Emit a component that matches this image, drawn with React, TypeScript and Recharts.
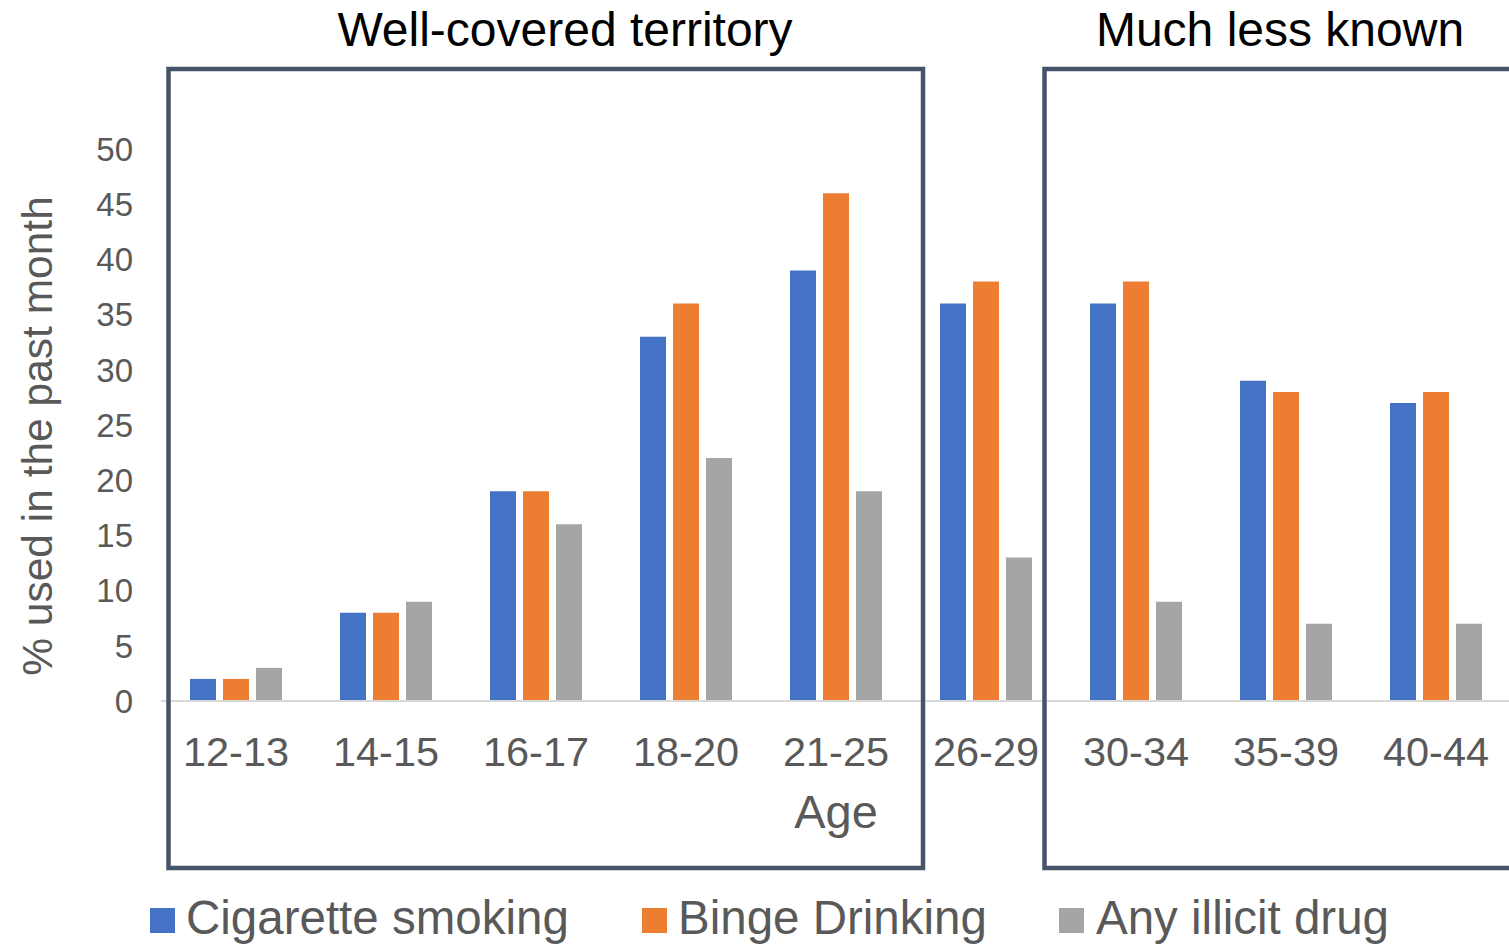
import React from "react";
import { BarChart, Bar, XAxis, YAxis } from "recharts";

const categories = ["12-13", "14-15", "16-17", "18-20", "21-25", "26-29", "30-34", "35-39", "40-44"];
const cigarette = [2, 8, 19, 33, 39, 36, 36, 29, 27];
const binge = [2, 8, 19, 36, 46, 38, 38, 28, 28];
const illicit = [3, 9, 16, 22, 19, 13, 9, 7, 7];
const yTicks = [0, 5, 10, 15, 20, 25, 30, 35, 40, 45, 50];

const seriesNames = ["Cigarette smoking", "Binge Drinking", "Any illicit drug"];
const seriesColors = ["#4472c4", "#ed7d31", "#a5a5a5"];
const seriesKeys = ["cig", "binge", "drug"];

const data = categories.map((c, i) => ({
  age: c,
  cig: cigarette[i],
  binge: binge[i],
  drug: illicit[i],
}));

const FONT = "'Liberation Sans', Arial, sans-serif";
const GREY_TEXT = "#595959";
const BOX = "#44546a";

const legendPos = [
  { sq: 150, tx: 186 },
  { sq: 642, tx: 678 },
  { sq: 1059, tx: 1096 },
];

export default function App() {
  return (
    <div
      style={{
        position: "fixed",
        left: 0,
        top: 0,
        width: 1509,
        height: 947,
        overflow: "hidden",
        background: "#ffffff",
        fontFamily: FONT,
      }}
    >
      <div style={{ position: "absolute", left: 0, top: 0 }}>
        <BarChart
          width={1520}
          height={947}
          data={data}
          margin={{ top: 149, bottom: 216, left: 101, right: 9 }}
          barSize={26}
          barGap={7}
        >
          <XAxis
            dataKey="age"
            height={30}
            axisLine={{ stroke: "#d9d9d9", strokeWidth: 2 }}
            tickLine={false}
            tickSize={0}
            tickMargin={36}
            interval={0}
            tick={{ fill: GREY_TEXT, fontSize: 41.5, fontFamily: FONT }}
          />
          <YAxis
            width={60}
            domain={[0, 50]}
            ticks={yTicks}
            axisLine={false}
            tickLine={false}
            tickSize={0}
            tickMargin={28}
            interval={0}
            tick={{ fill: GREY_TEXT, fontSize: 33, fontFamily: FONT }}
          />
          {seriesKeys.map((k, i) => (
            <Bar
              key={k}
              dataKey={k}
              name={seriesNames[i]}
              fill={seriesColors[i]}
              isAnimationActive={false}
            />
          ))}
        </BarChart>
      </div>
      <svg
        width={1509}
        height={947}
        style={{ position: "absolute", left: 0, top: 0, pointerEvents: "none" }}
      >
        <rect x={168.5} y={69} width={754.5} height={799} fill="none" stroke={BOX} strokeWidth={4.5} />
        <rect x={1044.5} y={69} width={500} height={799} fill="none" stroke={BOX} strokeWidth={4.5} />
        <text x={565} y={46} textAnchor="middle" fontSize={48} fill="#000000" fontFamily={FONT}>
          Well-covered territory
        </text>
        <text x={1280} y={46} textAnchor="middle" fontSize={48} fill="#000000" fontFamily={FONT}>
          Much less known
        </text>
        <text x={836} y={828} textAnchor="middle" fontSize={47} fill={GREY_TEXT} fontFamily={FONT}>
          Age
        </text>
        <text
          x={0}
          y={0}
          transform="translate(52,436) rotate(-90)"
          textAnchor="middle"
          fontSize={42.5}
          fill={GREY_TEXT}
          fontFamily={FONT}
        >
          % used in the past month
        </text>
        {seriesNames.map((n, i) => (
          <g key={n}>
            <rect x={legendPos[i].sq} y={908} width={25} height={25} fill={seriesColors[i]} />
            <text x={legendPos[i].tx} y={934} fontSize={47.5} fill={GREY_TEXT} fontFamily={FONT}>
              {n}
            </text>
          </g>
        ))}
      </svg>
    </div>
  );
}
